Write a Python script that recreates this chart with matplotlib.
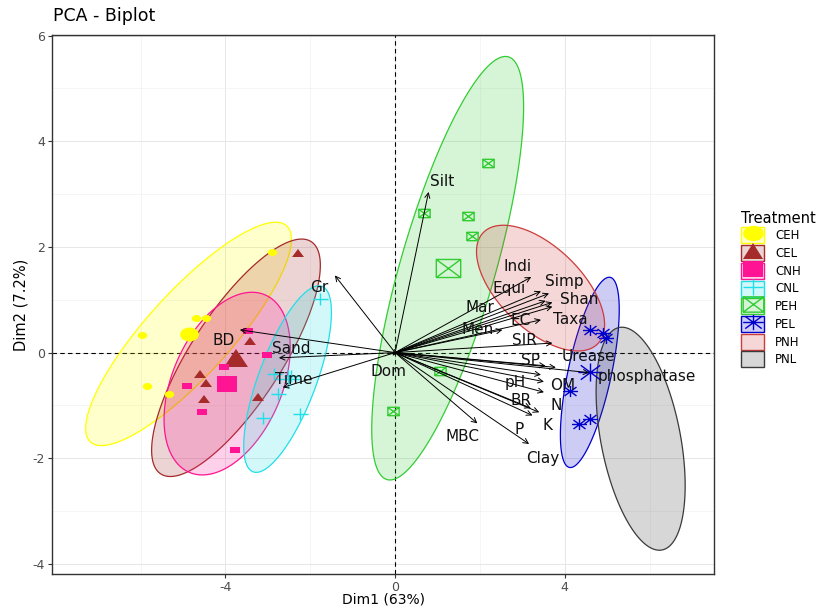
import numpy as np
import matplotlib
matplotlib.use("Agg")
import matplotlib.pyplot as plt
from matplotlib.path import Path
from matplotlib.markers import MarkerStyle
from matplotlib.transforms import Affine2D
from matplotlib.patches import Patch
from matplotlib.lines import Line2D
from matplotlib.colors import to_rgba

plt.rcParams['font.family'] = ['DejaVu Sans']
plt.rcParams['axes.unicode_minus'] = False

# individuals on Dim1 / Dim2, by treatment
ceh_x = [-2.91, -4.70, -4.47, -5.97, -5.84, -5.33]
ceh_y = [1.90, 0.65, 0.66, 0.33, -0.63, -0.79]
cel_x = [-2.30, -3.41, -4.61, -4.45, -4.51, -3.23]
cel_y = [1.88, 0.22, -0.41, -0.57, -0.87, -0.84]
cnh_x = [-3.48, -3.01, -4.04, -4.90, -4.55, -3.78]
cnh_y = [0.41, -0.05, -0.28, -0.63, -1.13, -1.84]
cnl_x = [-1.78, -2.85, -2.77, -3.12, -2.24, -2.45]
cnl_y = [1.02, -0.40, -0.78, -1.23, -1.17, -0.45]
peh_x = [2.20, 0.67, 1.72, 1.82, 1.07, -0.04]
peh_y = [3.59, 2.64, 2.59, 2.20, -0.34, -1.10]
pel_x = [4.60, 4.90, 4.98, 4.13, 4.60, 4.34]
pel_y = [0.43, 0.38, 0.28, -0.72, -1.26, -1.36]

# PNH / PNL show only their ellipse: centre x, centre y, half width, half height, correlation
pnh_ellipse = [3.43, 1.22, 1.51, 1.19, -0.58]
pnl_ellipse = [5.79, -1.63, 1.05, 2.11, -0.42]

# variable arrows (coordinates of arrow tips)
var_names = ["Silt", "Indi", "Simp", "Equi", "Shan", "Mar", "Taxa", "EC", "Men", "SIR",
             "SP", "Urease", "phosphatase", "pH", "OM", "BR", "N", "K", "P", "Clay",
             "MBC", "Dom", "Gr", "BD", "Sand", "Time"]
var_x = [0.79, 3.21, 3.63, 3.44, 3.71, 3.55, 3.71, 3.44, 2.53, 3.71,
         3.55, 3.79, 4.58, 3.44, 3.51, 3.51, 3.40, 3.24, 3.20, 3.16,
         1.94, -0.06, -1.42, -3.66, -2.74, -2.65]
var_y = [3.04, 1.43, 1.12, 1.16, 0.95, 0.98, 0.87, 0.62, 0.43, 0.18,
         -0.25, -0.28, -0.38, -0.42, -0.55, -0.75, -1.13, -1.19, -1.05, -1.73,
         -1.34, -0.06, 1.46, 0.43, -0.10, -0.66]

# label placement (repelled text), offsets from the arrow tip
label_nudge = {"Silt": (0.32, 0.20), "Indi": (-0.33, 0.20), "Simp": (0.37, 0.23),
               "Equi": (-0.75, 0.05), "Shan": (0.63, 0.05), "Mar": (-1.54, -0.13),
               "Taxa": (0.42, -0.25), "EC": (-0.48, -0.01), "Men": (-0.59, 0.0),
               "SIR": (-0.67, 0.05), "SP": (-0.35, 0.10), "Urease": (0.77, 0.20),
               "phosphatase": (1.36, -0.07), "pH": (-0.60, -0.14), "OM": (0.44, -0.07),
               "BR": (-0.55, -0.16), "N": (0.39, 0.13), "K": (0.35, -0.19),
               "P": (-0.28, -0.40), "Clay": (0.32, -0.28), "MBC": (-0.36, -0.25),
               "Dom": (-0.10, -0.29), "Gr": (-0.36, -0.22), "BD": (-0.39, -0.20),
               "Sand": (0.29, 0.17), "Time": (0.26, 0.16)}

treatments = ["CEH", "CEL", "CNH", "CNL", "PEH", "PEL", "PNH", "PNL"]
points = {"CEH": (ceh_x, ceh_y), "CEL": (cel_x, cel_y), "CNH": (cnh_x, cnh_y),
          "CNL": (cnl_x, cnl_y), "PEH": (peh_x, peh_y), "PEL": (pel_x, pel_y)}
colors = {"CEH": "#FFFF00", "CEL": "#A52A2A", "CNH": "#FF1493", "CNL": "#1FE0E8",
          "PEH": "#33CC33", "PEL": "#0000CD", "PNH": "#CD3B3B", "PNL": "#3A3A3A"}

R = np.sqrt(-2 * np.log(0.1))


def ellipse_xy(cx, cy, hx, hy, rho, n=240):
    t = np.linspace(0, 2 * np.pi, n, endpoint=False)
    x = cx + hx * np.cos(t)
    y = cy + hy * (rho * np.cos(t) + np.sqrt(1 - rho ** 2) * np.sin(t))
    return x, y


def group_ellipse(x, y):
    x, y = np.asarray(x), np.asarray(y)
    sx, sy = x.std(ddof=1), y.std(ddof=1)
    rho = np.corrcoef(x, y)[0, 1]
    return ellipse_xy(x.mean(), y.mean(), R * sx, R * sy, rho)


# markers (the source image is horizontally stretched)
stretch = Affine2D().scale(1.35, 1.0)
box_x = Path([(-1, -1), (1, -1), (1, 1), (-1, 1), (-1, -1), (-1, -1), (1, 1), (-1, 1), (1, -1)],
             [1, 2, 2, 2, 2, 1, 2, 1, 2])
aster = Path([(-1, 0), (1, 0), (0, -1), (0, 1), (-.8, -.8), (.8, .8), (-.8, .8), (.8, -.8)],
             [1, 2, 1, 2, 1, 2, 1, 2])
marker_kind = {"CEH": "o", "CEL": "^", "CNH": "s", "CNL": "+", "PEH": box_x, "PEL": aster}
hollow = {"CNL", "PEH", "PEL"}
pt_size = {"CEH": 5, "CEL": 6, "CNH": 5, "CNL": 8, "PEH": 6, "PEL": 8}
mean_size = {"CEH": 10, "CEL": 13, "CNH": 11, "CNL": 13, "PEH": 13, "PEL": 13}


def mstyle(g):
    return MarkerStyle(marker_kind[g], transform=stretch)


def mkw(g, size):
    c = colors[g]
    if g in hollow:
        return dict(marker=mstyle(g), ms=size, mfc="none", mec=c, mew=1.0)
    return dict(marker=mstyle(g), ms=size, mfc=c, mec=c, mew=0)


fig = plt.figure(figsize=(8.27, 6.06), dpi=100)
ax = fig.add_axes([52 / 827, 1 - 574 / 606, (714 - 52) / 827, (574 - 35) / 606])

ax.set_xlim(-8.09, 7.52)
ax.set_ylim(-4.19, 6.01)
ax.set_xticks([-4, 0, 4])
ax.set_yticks([-4, -2, 0, 2, 4, 6])
ax.set_xticks([-6, -2, 2, 6], minor=True)
ax.set_yticks([-3, -1, 1, 3, 5], minor=True)
ax.grid(which="major", color="#E6E6E6", lw=0.7)
ax.grid(which="minor", color="#F2F2F2", lw=0.5)
ax.set_axisbelow(True)
ax.tick_params(which="major", length=3, color="#333333", labelsize=9, labelcolor="#4D4D4D",
               pad=2)
ax.tick_params(which="minor", length=0)
for s in ax.spines.values():
    s.set_color("#333333")
    s.set_linewidth(1.0)

ax.axhline(0, color="black", ls=(0, (4, 3)), lw=0.8, zorder=1)
ax.axvline(0, color="black", ls=(0, (4, 3)), lw=0.8, zorder=1)

# ellipses
for g in treatments:
    if g in points:
        ex, ey = group_ellipse(*points[g])
    else:
        ex, ey = ellipse_xy(*(pnh_ellipse if g == "PNH" else pnl_ellipse))
    ax.fill(ex, ey, facecolor=to_rgba(colors[g], 0.2), edgecolor=colors[g],
            lw=0.9, zorder=2)

# individuals and group means
for g, (x, y) in points.items():
    ax.plot(x, y, ls="none", zorder=3, **mkw(g, pt_size[g]))
    ax.plot([np.mean(x)], [np.mean(y)], ls="none", zorder=3, **mkw(g, mean_size[g]))

# variable arrows
for name, vx, vy in zip(var_names, var_x, var_y):
    ax.annotate("", xy=(vx, vy), xytext=(0, 0),
                arrowprops=dict(arrowstyle="->", lw=0.7, color="black",
                                mutation_scale=9, shrinkA=0, shrinkB=0), zorder=4)
    dx, dy = label_nudge[name]
    ax.text(vx + dx, vy + dy, name, ha="center", va="center", fontsize=11,
            color="#111111", zorder=5)

ax.set_xlabel("Dim1 (63%)", fontsize=10, labelpad=-1)
ax.set_ylabel("Dim2 (7.2%)", fontsize=10.5, labelpad=3)
fig.text(53 / 827, 1 - 16 / 606, "PCA - Biplot", fontsize=12.5, ha="left", va="center")

# legend
handles = []
for g in treatments:
    c = colors[g]
    box = Patch(facecolor=to_rgba(c, 0.2), edgecolor=c, lw=1.0)
    if g in points:
        handles.append((box, Line2D([], [], ls="none", **mkw(g, 11))))
    else:
        handles.append(box)
fig.legend(handles, treatments, title="Treatment", loc="upper left",
           bbox_to_anchor=(736 / 827, 1 - 206 / 606), frameon=False,
           fontsize=8.5, title_fontsize=10.5, handlelength=2.0, handleheight=1.7,
           labelspacing=0.15, handletextpad=0.9, alignment="left", borderaxespad=0)

fig.savefig("out.png", dpi=100)
